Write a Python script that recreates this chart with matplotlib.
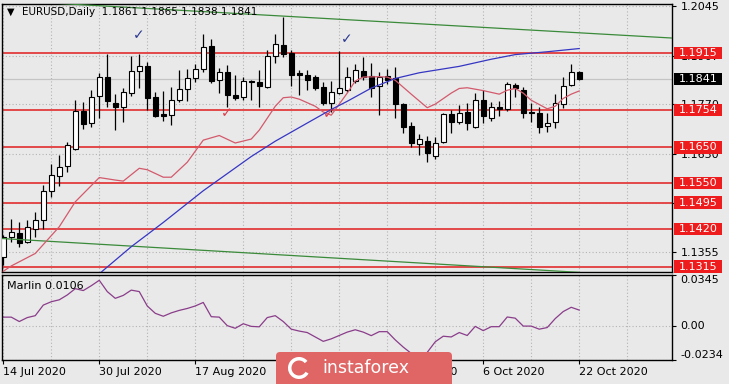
import numpy as np
import matplotlib.pyplot as plt
from matplotlib import transforms
from matplotlib.patches import Rectangle, FancyBboxPatch, Wedge

# daily EURUSD bars, bar 0 = 14 Jul 2020 ... bar 72 = 22 Oct 2020
opens = [1.1343, 1.1399, 1.1410, 1.1385, 1.1422, 1.1446, 1.1528, 1.1569, 1.1597, 1.1644,
         1.1752, 1.1717, 1.1794, 1.1846, 1.1773, 1.1762, 1.1803, 1.1864, 1.1878, 1.1790,
         1.1742, 1.1740, 1.1782, 1.1813, 1.1843, 1.1871, 1.1934, 1.1838, 1.1860, 1.1796,
         1.1790, 1.1836, 1.1834, 1.1820, 1.1906, 1.1937, 1.1915, 1.1857, 1.1852, 1.1846,
         1.1818, 1.1775, 1.1803, 1.1810, 1.1836, 1.1864, 1.1850, 1.1822, 1.1850, 1.1843,
         1.1771, 1.1709, 1.1658, 1.1668, 1.1625, 1.1665, 1.1743, 1.1721, 1.1749, 1.1707,
         1.1784, 1.1731, 1.1762, 1.1756, 1.1824, 1.1812, 1.1748, 1.1747, 1.1709, 1.1721,
         1.1771, 1.1824, 1.1861]
highs = [1.1405, 1.1450, 1.1441, 1.1446, 1.1469, 1.1544, 1.1603, 1.1628, 1.1665, 1.1782,
         1.1778, 1.1810, 1.1857, 1.1911, 1.1799, 1.1815, 1.1906, 1.1913, 1.1890, 1.1806,
         1.1808, 1.1818, 1.1866, 1.1871, 1.1885, 1.1967, 1.1953, 1.1873, 1.1880, 1.1852,
         1.1848, 1.1840, 1.1868, 1.1923, 1.1967, 1.2016, 1.1923, 1.1868, 1.1866, 1.1852,
         1.1834, 1.1836, 1.1921, 1.1876, 1.1885, 1.1904, 1.1887, 1.1862, 1.1871, 1.1876,
         1.1775, 1.1721, 1.1687, 1.1681, 1.1678, 1.1747, 1.1754, 1.1768, 1.1773, 1.1801,
         1.1810, 1.1778, 1.1780, 1.1834, 1.1831, 1.1820, 1.1775, 1.1762, 1.1745, 1.1799,
         1.1846, 1.1883, 1.1865]
lows = [1.1320, 1.1385, 1.1371, 1.1380, 1.1399, 1.1422, 1.1511, 1.1541, 1.1581, 1.1642,
        1.1700, 1.1706, 1.1731, 1.1762, 1.1698, 1.1721, 1.1794, 1.1815, 1.1754, 1.1734,
        1.1724, 1.1712, 1.1778, 1.1780, 1.1834, 1.1862, 1.1831, 1.1803, 1.1764, 1.1784,
        1.1784, 1.1784, 1.1764, 1.1815, 1.1887, 1.1904, 1.1822, 1.1796, 1.1810, 1.1810,
        1.1768, 1.1749, 1.1799, 1.1806, 1.1829, 1.1838, 1.1790, 1.1740, 1.1827, 1.1731,
        1.1691, 1.1651, 1.1628, 1.1609, 1.1616, 1.1663, 1.1691, 1.1715, 1.1698, 1.1703,
        1.1719, 1.1724, 1.1737, 1.1752, 1.1792, 1.1731, 1.1721, 1.1689, 1.1693, 1.1703,
        1.1759, 1.1822, 1.1838]
closes = [1.1399, 1.1413, 1.1382, 1.1425, 1.1446, 1.1528, 1.1571, 1.1595, 1.1656, 1.1752,
          1.1715, 1.1790, 1.1846, 1.1779, 1.1762, 1.1806, 1.1864, 1.1878, 1.1787, 1.1737,
          1.1737, 1.1784, 1.1813, 1.1843, 1.1871, 1.1930, 1.1836, 1.1862, 1.1796, 1.1789,
          1.1836, 1.1833, 1.1822, 1.1906, 1.1939, 1.1913, 1.1852, 1.1852, 1.1838, 1.1815,
          1.1775, 1.1806, 1.1815, 1.1846, 1.1866, 1.1848, 1.1815, 1.1848, 1.1840, 1.1771,
          1.1707, 1.1661, 1.1672, 1.1633, 1.1663, 1.1743, 1.1721, 1.1747, 1.1717, 1.1782,
          1.1737, 1.1762, 1.1758, 1.1827, 1.1815, 1.1745, 1.1745, 1.1706, 1.1719, 1.1773,
          1.1822, 1.1862, 1.1841]

# moving averages (at these bars)
red_ma_x = [0, 1, 4, 7, 9, 12, 14, 15, 17, 18, 20, 21, 23, 25, 27, 29, 31, 32, 34, 35,
            36, 37, 39, 40, 41, 42, 43, 44, 45, 47, 48, 49, 51, 53, 54, 56, 57, 58, 60, 62,
            63, 64, 65, 66, 67, 68, 69, 70, 71, 72]
red_ma = [1.1302, 1.1317, 1.1352, 1.1427, 1.1497, 1.1565, 1.1558, 1.1555, 1.1591, 1.1587,
          1.1566, 1.1566, 1.1608, 1.1670, 1.1683, 1.1662, 1.1673, 1.1698, 1.1765, 1.1789,
          1.1791, 1.1785, 1.1765, 1.1749, 1.1740, 1.1771, 1.1802, 1.1836, 1.1847, 1.1848,
          1.1847, 1.1838, 1.1799, 1.1761, 1.1771, 1.1802, 1.1815, 1.1817, 1.1809, 1.1799,
          1.1810, 1.1815, 1.1802, 1.1782, 1.1770, 1.1758, 1.1765, 1.1787, 1.1799, 1.1808]
blue_ma_x = [11, 16, 20, 25, 29, 31, 34, 38, 41, 43, 46, 49, 52, 57, 61, 64, 68, 72]
blue_ma = [1.1276, 1.1371, 1.1439, 1.1528, 1.1592, 1.1624, 1.1667, 1.1718, 1.1756, 1.1779,
           1.1816, 1.1843, 1.1859, 1.1877, 1.1897, 1.1910, 1.1918, 1.1927]

# trend lines (two end points each) and horizontal levels
upper_trend_x = [5, 84]
upper_trend = [1.2056, 1.1956]
lower_trend_x = [-1, 72]
lower_trend = [1.1395, 1.1299]
levels = [1.1915, 1.1754, 1.1650, 1.1550, 1.1495, 1.1420, 1.1315]

# Marlin oscillator
marlin = [0.0058, 0.0058, 0.0028, 0.0055, 0.0068, 0.0140, 0.0163, 0.0176, 0.0209, 0.0252,
          0.0239, 0.0272, 0.0309, 0.0232, 0.0186, 0.0206, 0.0242, 0.0232, 0.0134, 0.0084,
          0.0064, 0.0087, 0.0104, 0.0117, 0.0134, 0.0158, 0.0061, 0.0058, 0.0000, -0.0018,
          0.0013, -0.0005, -0.0008, 0.0055, 0.0068, 0.0028, -0.0024, -0.0037, -0.0047, -0.0077,
          -0.0107, -0.0090, -0.0067, -0.0044, -0.0028, -0.0044, -0.0068, -0.0041, -0.0041, -0.0097,
          -0.0146, -0.0189, -0.0209, -0.0182, -0.0110, -0.0072, -0.0077, -0.0047, -0.0067, -0.0005,
          -0.0034, -0.0007, -0.0007, 0.0059, 0.0051, -0.0003, -0.0003, -0.0024, -0.0013, 0.0048,
          0.0096, 0.0125, 0.0106]

date_pos = [0, 12, 24, 36, 48, 60, 72]
date_labels = ['14 Jul 2020', '30 Jul 2020', '17 Aug 2020', '2 Sep 2020',
               '18 Sep 2020', '6 Oct 2020', '22 Oct 2020']
price_ticks = [1.1355, 1.1493, 1.1630, 1.1770, 1.1907, 1.2045]

BG = '#e9e9e9'
GRID = '#b4b4b4'
LEVEL_RED = '#e24848'

fig = plt.figure(figsize=(7.29, 3.84), dpi=100, facecolor=BG)
ax = fig.add_axes([2 / 729, 112 / 384, 670 / 729, 268 / 384], facecolor=BG)
ax2 = fig.add_axes([2 / 729, 24 / 384, 670 / 729, 85 / 384], facecolor=BG)

xlim = (-0.16, 83.6)
ylim = (1.1300, 1.2052)

# --- main price chart ---
x = np.arange(len(closes))
o = np.array(opens)
c = np.array(closes)
ax.vlines(x, lows, highs, color='black', lw=0.9, zorder=3)
ax.bar(x, np.abs(c - o), width=0.62, bottom=np.minimum(o, c),
       color=['white' if cc >= oo else 'black' for oo, cc in zip(o, c)],
       edgecolor='black', linewidth=0.8, zorder=4)

for lv in levels:
    ax.axhline(lv, color=LEVEL_RED, lw=1.4, zorder=2)
ax.axhline(closes[-1], color='#c4c4c4', lw=0.9, zorder=1.8)

ax.plot(upper_trend_x, upper_trend, color='#3a8a3a', lw=0.9, zorder=5)
ax.plot(lower_trend_x, lower_trend, color='#3a8a3a', lw=0.9, zorder=5)
ax.plot(red_ma_x, red_ma, color='#d35a6c', lw=0.9, zorder=5)
ax.plot(blue_ma_x, blue_ma, color='#3636c4', lw=0.9, zorder=5)

# check marks
for cx, cy, col in [(16.9, 1.1966, '#2b3990'), (42.9, 1.1953, '#2b3990'),
                    (27.9, 1.1747, '#d9414f'), (40.7, 1.1744, '#d9414f')]:
    ax.text(cx, cy, '\u2713', color=col, fontsize=10, fontweight='bold',
            ha='center', va='center', zorder=6)

ax.set_xlim(xlim)
ax.set_ylim(ylim)
ax.set_xticks(range(0, 84, 6))
ax.tick_params(axis='x', length=0, labelbottom=False)
ax.yaxis.tick_right()
ax.set_yticks(price_ticks)
ax.set_yticklabels([f'{t:.4f}' for t in price_ticks])
ax.tick_params(axis='y', length=3, pad=3, labelsize=8, colors='black')
ax.grid(True, color=GRID, linestyle=(0, (1, 2)), lw=0.8)
ax.set_axisbelow(True)
for sp in ax.spines.values():
    sp.set_color('black')
    sp.set_linewidth(1.0)

# price labels on the right scale
bt = transforms.blended_transform_factory(ax.transAxes, ax.transData)
box_x = 672 / 670
box_w = 48 / 670
box_h = 12.5 * (ylim[1] - ylim[0]) / 268
for lv, fc in [(l, '#ee1c1c') for l in levels] + [(closes[-1], 'black')]:
    ax.add_patch(Rectangle((box_x, lv - box_h / 2), box_w, box_h, transform=bt,
                           facecolor=fc, edgecolor='none', clip_on=False, zorder=6))
    ax.text(box_x + box_w / 2, lv, f'{lv:.4f}', transform=bt, color='white',
            fontsize=8, ha='center', va='center', clip_on=False, zorder=7)

ax.text(0.008, 0.970, '\u25bc', transform=ax.transAxes, fontsize=7,
        ha='left', va='center', zorder=7)
ax.text(0.0294, 0.970, 'EURUSD,Daily  1.1861 1.1865 1.1838 1.1841',
        transform=ax.transAxes, fontsize=7.5, ha='left', va='center', zorder=7)

# --- Marlin panel ---
ax2.plot(x, marlin, color='#8a3d8a', lw=0.9)
ax2.set_xlim(xlim)
ax2.set_ylim(-0.0234, 0.0345)
ax2.set_xticks(date_pos)
ax2.set_xticklabels(date_labels)
ax2.set_xticks(range(6, 84, 12), minor=True)
ax2.tick_params(axis='x', which='major', length=3, pad=2, labelsize=8)
ax2.tick_params(axis='x', which='minor', length=0)
for lbl in ax2.get_xticklabels():
    lbl.set_ha('left')
ax2.yaxis.tick_right()
ax2.set_yticks([-0.0234, 0.0, 0.0345])
ax2.set_yticklabels(['-0.0234', '0.00', '0.0345'])
ax2.tick_params(axis='y', length=3, pad=3, labelsize=8)
for lbl, va in zip(ax2.get_yticklabels(), ['bottom', 'center', 'top']):
    lbl.set_va(va)
ax2.grid(True, which='both', color=GRID, linestyle=(0, (1, 2)), lw=0.8)
ax2.set_axisbelow(True)
for sp in ax2.spines.values():
    sp.set_color('black')
    sp.set_linewidth(1.0)
ax2.text(0.007, 0.87, 'Marlin 0.0106', transform=ax2.transAxes, fontsize=8,
         ha='left', va='center')

# --- watermark ---
fig.patches.append(FancyBboxPatch((2.76, -0.1), 1.76, 0.42,
                                  boxstyle='round,pad=0,rounding_size=0.04',
                                  transform=fig.dpi_scale_trans, facecolor='#e06565',
                                  edgecolor='none', zorder=10))
fig.patches.append(Wedge((2.99, 0.16), 0.11, 40, 330, width=0.035,
                         transform=fig.dpi_scale_trans, facecolor='white',
                         edgecolor='none', zorder=11))
fig.text(3.22 / 7.29, 0.16 / 3.84, 'instaforex', color='white', fontsize=12.5,
         ha='left', va='center', zorder=12)

fig.savefig('out.png', dpi=100, facecolor=BG)
